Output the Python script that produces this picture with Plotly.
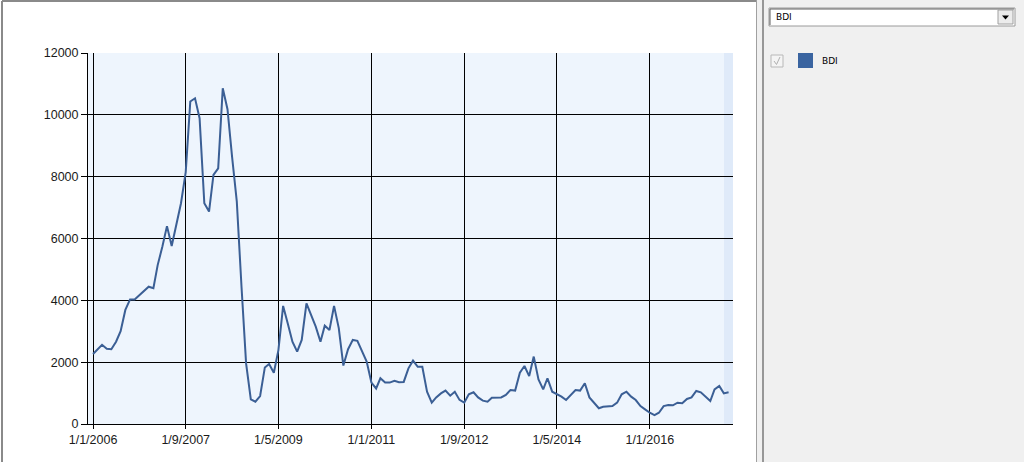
import pandas as pd
import plotly.graph_objects as go

# Monthly BDI values, Jan 2006 .. Jun 2017
bdi = [
    2265, 2425, 2560, 2430, 2420, 2660, 3000, 3690, 4030, 4030, 4170, 4310,
    4440, 4390, 5140, 5740, 6400, 5760, 6490, 7140, 8150, 10430, 10535, 9890,
    7140, 6870, 8055, 8270, 10860, 10180, 8650, 7200, 4440, 1960, 800, 720,
    905, 1830, 1940, 1660, 2390, 3820, 3260, 2660, 2340, 2720, 3900, 3530,
    3150, 2660, 3180, 3040, 3820, 3100, 1890, 2420, 2720, 2690, 2340, 2020,
    1340, 1150, 1480, 1340, 1340, 1400, 1350, 1360, 1800, 2050, 1850, 1850,
    1045, 690, 860, 990, 1080, 915, 1045, 780, 690, 960, 1025, 860,
    755, 720, 850, 850, 860, 940, 1100, 1080, 1660, 1875, 1550, 2180,
    1445, 1120, 1480, 1045, 970, 885, 775, 940, 1100, 1080, 1320, 860,
    670, 510, 560, 580, 580, 690, 960, 1045, 885, 775, 580, 475,
    365, 290, 365, 580, 615, 605, 690, 670, 810, 860, 1070, 1025,
    885, 745, 1120, 1230, 990, 1025,
]
months = pd.date_range("2006-01-01", periods=len(bdi), freq="MS")

tick_vals = ["2006-01-01", "2007-09-01", "2009-05-01", "2011-01-01",
             "2012-09-01", "2014-05-01", "2016-01-01"]
tick_text = ["1/1/2006", "1/9/2007", "1/5/2009", "1/1/2011",
             "1/9/2012", "1/5/2014", "1/1/2016"]
y_ticks = [0, 2000, 4000, 6000, 8000, 10000, 12000]
y_text = ["0", "2000", "4000", "6000", "8000", "10000", "12000"]
series_name = "BDI"

W, H = 1024, 462
L, R, T, B = 88, 733, 53, 424  # plot area in pixels


def px(x):
    return (x - L) / (R - L)


def py(y):
    return (B - y) / (B - T)


fig = go.Figure()
fig.add_trace(go.Scatter(
    x=months, y=bdi, mode="lines", name=series_name,
    line=dict(color="#3b5f95", width=2), showlegend=False,
))

shapes = []
# darker band at right edge of plot
shapes.append(dict(type="rect", xref="paper", yref="paper", x0=px(724), x1=1,
                   y0=0, y1=1, fillcolor="#dfeaf9", line_width=0, layer="below"))
# left panel borders
shapes.append(dict(type="line", xref="paper", yref="paper", x0=px(2), x1=px(2),
                   y0=py(1), y1=py(470), line=dict(color="#8a8a8a", width=2)))
shapes.append(dict(type="line", xref="paper", yref="paper", x0=px(2), x1=px(756),
                   y0=py(1), y1=py(1), line=dict(color="#8a8a8a", width=2)))
# right panel
shapes.append(dict(type="rect", xref="paper", yref="paper", x0=px(757), x1=px(1030),
                   y0=py(-5), y1=py(470), fillcolor="#f0f0f0", line_width=0))
shapes.append(dict(type="line", xref="paper", yref="paper", x0=px(756.5), x1=px(756.5),
                   y0=py(0), y1=py(470), line=dict(color="#a0a0a0", width=1)))
shapes.append(dict(type="line", xref="paper", yref="paper", x0=px(763), x1=px(763),
                   y0=py(0), y1=py(470), line=dict(color="#7a7a7a", width=1.5)))
# dropdown box
shapes.append(dict(type="rect", xref="paper", yref="paper", x0=px(769), x1=px(1015),
                   y0=py(26), y1=py(8), fillcolor="white",
                   line=dict(color="#9a9a9a", width=1)))
shapes.append(dict(type="line", xref="paper", yref="paper", x0=px(770), x1=px(1014),
                   y0=py(9), y1=py(9), line=dict(color="#606060", width=1)))
shapes.append(dict(type="line", xref="paper", yref="paper", x0=px(770), x1=px(770),
                   y0=py(9), y1=py(25), line=dict(color="#606060", width=1)))
shapes.append(dict(type="rect", xref="paper", yref="paper", x0=px(998), x1=px(1013),
                   y0=py(24), y1=py(10), fillcolor="#ececec",
                   line=dict(color="#a0a0a0", width=1)))
shapes.append(dict(type="path", xref="paper", yref="paper",
                   path="M %f,%f L %f,%f L %f,%f Z" % (px(1002), py(15.5), px(1009), py(15.5),
                                                       px(1005.5), py(19.5)),
                   fillcolor="black", line_width=0))
# checkbox
shapes.append(dict(type="rect", xref="paper", yref="paper", x0=px(771), x1=px(783),
                   y0=py(67), y1=py(55), fillcolor="#f4f4f4",
                   line=dict(color="#b8b8b8", width=1)))
shapes.append(dict(type="path", xref="paper", yref="paper",
                   path="M %f,%f L %f,%f L %f,%f" % (px(774), py(61), px(776.5), py(64.5),
                                                     px(780), py(57)),
                   line=dict(color="#b0b0b0", width=1)))
# legend swatch
shapes.append(dict(type="rect", xref="paper", yref="paper", x0=px(798), x1=px(813),
                   y0=py(68), y1=py(53), fillcolor="#3a64a0", line_width=0))

annotations = [
    dict(x=px(774), y=py(17), xref="paper", yref="paper", text=series_name,
         showarrow=False, xanchor="left", yanchor="middle",
         font=dict(family="DejaVu Sans", size=9, color="#000")),
    dict(x=px(820), y=py(61), xref="paper", yref="paper", text=series_name,
         showarrow=False, xanchor="left", yanchor="middle",
         font=dict(family="DejaVu Sans", size=9, color="#000")),
]

fig.update_layout(
    width=W, height=H,
    margin=dict(l=L, r=W - R, t=T, b=H - B, pad=0),
    paper_bgcolor="white",
    plot_bgcolor="#eef5fd",
    shapes=shapes,
    annotations=annotations,
    font=dict(family="Liberation Sans, Arial", size=12.5, color="#1a1a1a"),
    xaxis=dict(
        type="date",
        range=["2005-11-29", "2017-06-30"],
        tickvals=tick_vals, ticktext=tick_text,
        showgrid=True, gridcolor="black", gridwidth=1,
        showline=True, linecolor="black", linewidth=1,
        ticks="outside", ticklen=4, tickcolor="black",
        zeroline=False, fixedrange=True,
    ),
    yaxis=dict(
        range=[0, 12000],
        tickvals=y_ticks, ticktext=y_text,
        showgrid=True, gridcolor="black", gridwidth=1,
        showline=True, linecolor="black", linewidth=1,
        ticks="outside", ticklen=6, tickcolor="black",
        zeroline=False, fixedrange=True,
    ),
)

fig.write_html(
    "out.html",
    config={"displayModeBar": False},
    post_script="document.body.style.margin='0px';document.body.style.overflow='hidden';",
)
